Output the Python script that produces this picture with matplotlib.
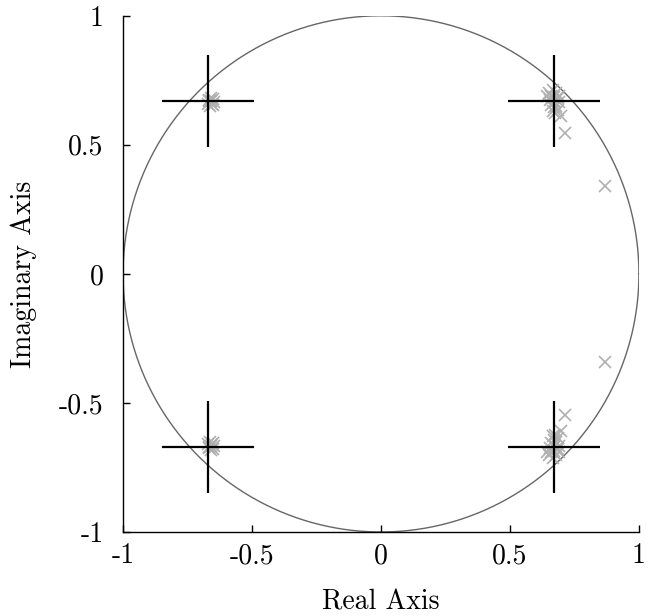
import numpy as np
import matplotlib
matplotlib.use("Agg")
import matplotlib.pyplot as plt

plt.rcParams['font.family'] = ['cmr10', 'DejaVu Serif']
plt.rcParams['axes.formatter.use_mathtext'] = True

# reference poles (black plus markers)
ref_re = [0.67, 0.67, -0.67, -0.67]
ref_im = [0.67, -0.67, 0.67, -0.67]

# estimated poles (grey crosses), upper right cluster + outliers
ur_re = [0.650, 0.660, 0.670, 0.680, 0.665, 0.655, 0.675, 0.685, 0.660, 0.670,
         0.680, 0.690, 0.665, 0.675, 0.645, 0.690, 0.685, 0.697, 0.712, 0.870]
ur_im = [0.700, 0.690, 0.685, 0.700, 0.712, 0.675, 0.665, 0.680, 0.655, 0.645,
         0.650, 0.665, 0.630, 0.625, 0.690, 0.690, 0.635, 0.610, 0.545, 0.342]
# upper left cluster
ul_re = [-0.665, -0.655, -0.650, -0.670, -0.660, -0.648, -0.662, -0.668, -0.652, -0.658]
ul_im = [0.675, 0.660, 0.677, 0.660, 0.682, 0.665, 0.652, 0.670, 0.655, 0.668]

tick_vals = [-1, -0.5, 0, 0.5, 1]
tick_text = ['-1', '-0.5', '0', '0.5', '1']

fig = plt.figure(figsize=(6.58, 6.16), dpi=100)
ax = fig.add_axes([0.187, 0.1364, 0.784, 0.838])

theta = np.linspace(0, 2 * np.pi, 400)
ax.plot(np.cos(theta), np.sin(theta), color='#666666', lw=1.0, zorder=1)

grey = '#b0b0b0'
est_re = ur_re + ur_re + ul_re + ul_re
est_im = ur_im + [-v for v in ur_im] + ul_im + [-v for v in ul_im]
ax.plot(est_re, est_im, linestyle='none', marker='x', ms=8, mew=1.2,
        color=grey, zorder=2)

ax.plot(ref_re, ref_im, linestyle='none', marker='+', ms=66, mew=1.6,
        color='black', zorder=3)

ax.set_xlim(-1, 1)
ax.set_ylim(-1, 1)
ax.set_xticks(tick_vals)
ax.set_xticklabels(tick_text)
ax.set_yticks(tick_vals)
ax.set_yticklabels(tick_text)
ax.tick_params(direction='in', length=5, width=1, labelsize=20)
ax.tick_params(axis='x', pad=8)
ax.tick_params(axis='y', pad=14)
for side in ['top', 'right']:
    ax.spines[side].set_visible(False)
for side in ['left', 'bottom']:
    ax.spines[side].set_linewidth(1.0)

ax.set_xlabel('Real Axis', fontsize=20, labelpad=14)
ax.set_ylabel('Imaginary Axis', fontsize=20, labelpad=16)

fig.savefig('out.png', dpi=100)
